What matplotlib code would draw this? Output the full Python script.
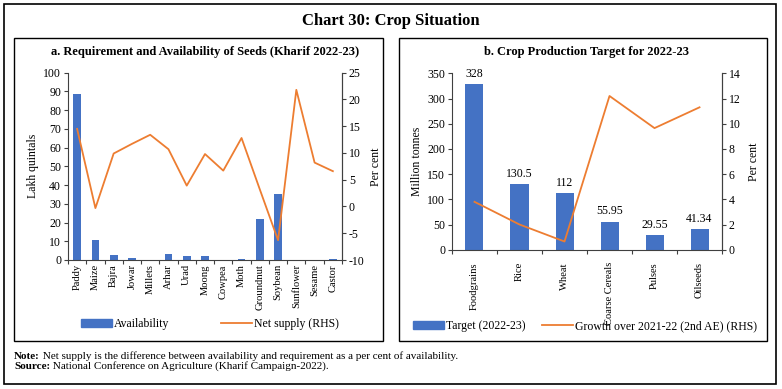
import matplotlib
matplotlib.use('Agg')
import matplotlib.pyplot as plt
from matplotlib.patches import Rectangle
from matplotlib.lines import Line2D

plt.rcParams['font.family'] = ['Liberation Serif', 'DejaVu Serif']
plt.rcParams['axes.unicode_minus'] = False

# panel a: seeds (Kharif 2022-23)
seed_crops = ['Paddy', 'Maize', 'Bajra', 'Jowar', 'Millets', 'Arhar', 'Urad', 'Moong',
              'Cowpea', 'Moth', 'Groundnut', 'Soybean', 'Sunflower', 'Sesame', 'Castor']
availability = [88.7, 10.5, 2.5, 1.0, 0.2, 3.0, 2.2, 2.0, 0.2, 0.3, 22.0, 35.0, 0.1, 0.2, 0.5]
net_supply = [14.5, -0.3, 9.9, 11.7, 13.4, 10.7, 3.9, 9.8, 6.7, 12.8, 3.2, -6.3, 21.8, 8.2, 6.6]

# panel b: production targets
prod_crops = ['Foodgrains', 'Rice', 'Wheat', 'Coarse Cereals', 'Pulses', 'Oilseeds']
target = [328, 130.5, 112, 55.95, 29.55, 41.34]
target_labels = ['328', '130.5', '112', '55.95', '29.55', '41.34']
growth = [3.8, 2.0, 0.65, 12.2, 9.65, 11.3]

BLUE = '#4472C4'
ORANGE = '#ED7D31'
W, H = 782, 389
fs = 8.5
xfs = 7.6

fig = plt.figure(figsize=(W / 100, H / 100), dpi=100)


def box(x0, y0, x1, y1, lw=1.0):
    # pixel coords from top-left
    fig.patches.append(Rectangle((x0 / W, 1 - y1 / H), (x1 - x0) / W, (y1 - y0) / H,
                                 transform=fig.transFigure, fill=False,
                                 edgecolor='black', linewidth=lw))


def ax_at(x0, y0, x1, y1):
    return fig.add_axes([x0 / W, 1 - y1 / H, (x1 - x0) / W, (y1 - y0) / H])


def style(ax, ax2):
    for a in (ax, ax2):
        a.spines['top'].set_visible(False)
        for s in ('left', 'right', 'bottom'):
            a.spines[s].set_linewidth(0.8)
            a.spines[s].set_color('#404040')
        a.tick_params(labelsize=fs, length=3, width=0.8, color='#404040', pad=2)
    ax2.spines['left'].set_visible(False)
    ax2.spines['bottom'].set_visible(False)


def legend(handles, labels, cx, cy, colsp):
    fig.legend(handles=handles, labels=labels, loc='center',
               bbox_to_anchor=(cx / W, 1 - cy / H), ncol=2, frameon=False,
               fontsize=fs, handlelength=2.6, handleheight=0.7,
               columnspacing=colsp, handletextpad=0.2)


box(4, 4, 776, 384, lw=1.2)
box(14, 38, 383, 341)
box(399, 38, 767, 341)

fig.text(391 / W, 1 - 21 / H, 'Chart 30: Crop Situation', ha='center', va='center',
         fontsize=12, fontweight='bold')

# ---- panel a
ax = ax_at(68, 72.7, 342, 260)
xa = range(len(seed_crops))
ax.bar(xa, availability, width=0.42, color=BLUE, zorder=2)
ax.set_ylim(0, 100)
ax.set_yticks(range(0, 101, 10))
ax.set_xlim(-0.5, len(seed_crops) - 0.5)
ax.set_xticks([i - 0.5 for i in range(len(seed_crops) + 1)])
ax.set_xticklabels([])
ax.set_xticks(list(xa), minor=True)
ax.set_xticklabels(seed_crops, minor=True, rotation=90, fontsize=xfs)
ax.tick_params(axis='x', which='minor', length=0, pad=3)
ax.set_ylabel('Lakh quintals', fontsize=fs, labelpad=3)
ax2 = ax.twinx()
ax2.plot(xa, net_supply, color=ORANGE, lw=1.3)
ax2.set_ylim(-10, 25)
ax2.set_yticks(range(-10, 26, 5))
ax2.set_ylabel('Per cent', fontsize=fs, labelpad=4)
style(ax, ax2)
ax.set_title('a. Requirement and Availability of Seeds (Kharif 2022-23)',
             fontsize=9, fontweight='bold', pad=13)

legend([Rectangle((0, 0), 1, 1, color=BLUE), Line2D([], [], color=ORANGE, lw=1.3)],
       ['Availability', 'Net supply (RHS)'], 210, 324, 4.4)

# ---- panel b
bx = ax_at(452, 73.3, 722, 249.7)
xb = range(len(prod_crops))
bars = bx.bar(xb, target, width=0.4, color=BLUE, zorder=2)
bx.bar_label(bars, labels=target_labels, padding=3, fontsize=fs)
bx.set_ylim(0, 350)
bx.set_yticks(range(0, 351, 50))
bx.set_xlim(-0.5, len(prod_crops) - 0.5)
bx.set_xticks([i - 0.5 for i in range(len(prod_crops) + 1)])
bx.set_xticklabels([])
bx.set_xticks(list(xb), minor=True)
bx.set_xticklabels(prod_crops, minor=True, rotation=90, fontsize=xfs, va='top')
bx.tick_params(axis='x', which='minor', length=0, pad=9)
bx.set_ylabel('Million tonnes', fontsize=fs, labelpad=3)
bx2 = bx.twinx()
bx2.plot(xb, growth, color=ORANGE, lw=1.3)
bx2.set_ylim(0, 14)
bx2.set_yticks(range(0, 15, 2))
bx2.set_ylabel('Per cent', fontsize=fs, labelpad=5)
style(bx, bx2)
bx.set_title('b. Crop Production Target for 2022-23', fontsize=9, fontweight='bold', pad=13)

legend([Rectangle((0, 0), 1, 1, color=BLUE), Line2D([], [], color=ORANGE, lw=1.3)],
       ['Target (2022-23)', 'Growth over 2021-22 (2nd AE) (RHS)'], 585, 326, 1.4)

# notes: bold lead word, then plain text placed right after it
fig.canvas.draw()
for y, lead, rest in [(359, 'Note:', ' Net supply is the difference between availability and '
                       'requirement as a per cent of availability.'),
                      (369, 'Source:', ' National Conference on Agriculture '
                       '(Kharif Campaign-2022).')]:
    t = fig.text(14 / W, 1 - y / H, lead, fontsize=8, fontweight='bold', va='baseline')
    bb = t.get_window_extent(renderer=fig.canvas.get_renderer())
    fig.text(bb.x1 / W, 1 - y / H, rest, fontsize=8, va='baseline')

fig.savefig('out.png', dpi=100)
